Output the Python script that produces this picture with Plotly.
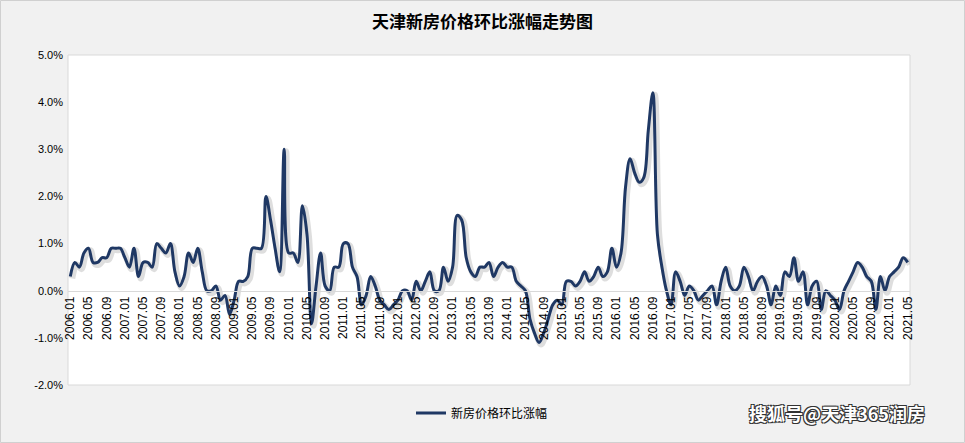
import plotly.graph_objects as go

# ---- data ----
months = [f"{y}.{m:02d}" for y in range(2006, 2022) for m in range(1, 13)][:185]  # 2006.01 - 2021.05
tick_labels = months[::4]

mom_change = [
    0.3, 0.6, 0.5, 0.8, 0.9, 0.6, 0.6, 0.7, 0.7, 0.9, 0.9, 0.9,      # 2006
    0.7, 0.5, 0.9, 0.3, 0.6, 0.6, 0.5, 1.0, 0.9, 0.8, 1.0, 0.4,      # 2007
    0.1, 0.3, 0.8, 0.6, 0.9, 0.4, 0.0, 0.0, 0.1, -0.2, -0.1, -0.5,   # 2008
    -0.2, 0.2, 0.2, 0.3, 0.9, 0.9, 0.9, 2.0, 1.5, 0.9, 0.4, 3.0,     # 2009
    0.8, 0.8, 0.6, 1.8, 1.2, -0.7, 0.1, 0.8, 0.1, 0.0, 0.5, 0.5,     # 2010
    1.0, 1.0, 0.5, 0.3, -0.3, -0.1, 0.3, 0.1, -0.2, -0.3, -0.4, -0.3,  # 2011
    -0.2, 0.0, 0.0, -0.2, 0.2, 0.0, 0.2, 0.4, 0.0, 0.0, 0.5, 0.2,    # 2012
    0.5, 1.6, 1.5, 0.7, 0.4, 0.3, 0.5, 0.5, 0.6, 0.3, 0.5, 0.6,      # 2013
    0.5, 0.5, 0.2, 0.1, 0.0, -0.6, -0.9, -1.1, -0.9, -0.6, -0.3, -0.2,  # 2014
    -0.3, 0.2, 0.2, 0.1, 0.2, 0.4, 0.2, 0.3, 0.5, 0.3, 0.4, 0.9,     # 2015
    0.5, 0.8, 2.2, 2.8, 2.5, 2.3, 2.4, 3.4, 4.2, 1.2, 0.5, 0.0,      # 2016
    -0.3, 0.4, 0.2, -0.1, 0.1, 0.0, -0.2, -0.1, 0.0, 0.1, -0.3, 0.2,  # 2017
    0.5, 0.1, 0.0, 0.1, 0.5, 0.3, 0.0, 0.2, 0.3, 0.1, -0.3, 0.1,     # 2018
    -0.1, 0.4, 0.3, 0.7, 0.2, 0.4, -0.3, 0.1, 0.2, -0.4, 0.0, -0.1,  # 2019
    -0.2, -0.4, 0.0, 0.2, 0.4, 0.6, 0.5, 0.3, 0.2, -0.4, 0.3, 0.0,   # 2020
    0.3, 0.4, 0.5, 0.7, 0.6,                                         # 2021
]

y_ticks = [5, 4, 3, 2, 1, 0, -1, -2]
y_tick_text = ["5.0%", "4.0%", "3.0%", "2.0%", "1.0%", "0.0%", "-1.0%", "-2.0%"]

series_name = "新房价格环比涨幅"
title_text = "天津新房价格环比涨幅走势图"
watermark = "搜狐号@天津365润房"

# ---- figure ----
W, H = 965, 443
L, R, T, B = 68, 55, 55, 58
pw, ph = W - L - R, H - T - B
n = len(months)

fig = go.Figure()

# soft drop shadow (same data, drawn on slightly shifted hidden axes)
fig.add_trace(go.Scatter(
    x=months, y=mom_change, mode="lines", xaxis="x", yaxis="y",
    line=dict(color="rgba(0,0,0,0.13)", width=6, shape="spline", smoothing=1),
    hoverinfo="skip", showlegend=False,
))
# main line
fig.add_trace(go.Scatter(
    x=months, y=mom_change, mode="lines", name=series_name, xaxis="x2", yaxis="y2",
    line=dict(color="#1F3864", width=3, shape="spline", smoothing=1),
))

dx = 2.0 / (pw / n)          # ~2 px shift in category units
dy = 2.0 / (ph / 7.0)        # ~2 px shift in value units

font_fam = "Liberation Sans, Noto Sans CJK SC, sans-serif"
cjk = "Noto Sans CJK SC, sans-serif"

fig.update_layout(
    width=W, height=H,
    margin=dict(l=L, r=R, t=T, b=B),
    paper_bgcolor="#F1F1F1",
    plot_bgcolor="#FFFFFF",
    title=dict(text=f"<b>{title_text}</b>", x=0.5, xref="container", xanchor="center",
               y=1 - 22 / H, yref="container", yanchor="middle",
               font=dict(family=cjk, size=17, color="#000000")),
    xaxis=dict(type="category", range=[-0.5 - dx, n - 0.5 - dx], visible=False,
               categoryorder="array", categoryarray=months),
    yaxis=dict(range=[-2 + dy, 5 + dy], visible=False),
    xaxis2=dict(type="category", overlaying="x", range=[-0.5, n - 0.5],
                categoryorder="array", categoryarray=months,
                anchor="free", position=2 / 7,
                tickmode="array", tickvals=tick_labels, ticktext=tick_labels,
                tickangle=-90, tickfont=dict(family=font_fam, size=12, color="#000000"),
                showline=True, linecolor="#D9D9D9", linewidth=1,
                showgrid=False, zeroline=False, ticks=""),
    yaxis2=dict(overlaying="y", range=[-2, 5], anchor="free", position=0, side="left",
                tickmode="array", tickvals=y_ticks, ticktext=y_tick_text,
                tickfont=dict(family=font_fam, size=11, color="#000000"),
                showgrid=False, zeroline=False, showline=False, ticks="",
                ticklabelstandoff=5),
    legend=dict(orientation="h", x=(482 - L) / pw, xanchor="center",
                y=(H - B - 413) / ph, yanchor="middle",
                font=dict(family=cjk, size=12, color="#000000"),
                bgcolor="rgba(0,0,0,0)"),
    showlegend=True,
)

# plot area border and outer frame
fig.add_shape(type="rect", xref="paper", yref="paper", x0=0, x1=1, y0=0, y1=1,
              line=dict(color="#D9D9D9", width=1), layer="below")
fig.add_shape(type="rect", xref="paper", yref="paper",
              x0=(0.5 - L) / pw, x1=(W - 0.5 - L) / pw,
              y0=(H - B - (H - 0.5)) / ph, y1=(H - B - 0.5) / ph,
              line=dict(color="#D0D0D0", width=1), layer="below")

# watermark
fig.add_annotation(text=f"<b>{watermark}</b>", xref="paper", yref="paper",
                   x=(927 - L) / pw, xanchor="right", y=(H - B - 413) / ph, yanchor="middle",
                   showarrow=False,
                   font=dict(family=cjk, size=18, color="#FFFFFF",
                             shadow="1px 1px 0 #333, -1px -1px 0 #333, 1px -1px 0 #333, -1px 1px 0 #333"))

fig.write_html("out.html")
